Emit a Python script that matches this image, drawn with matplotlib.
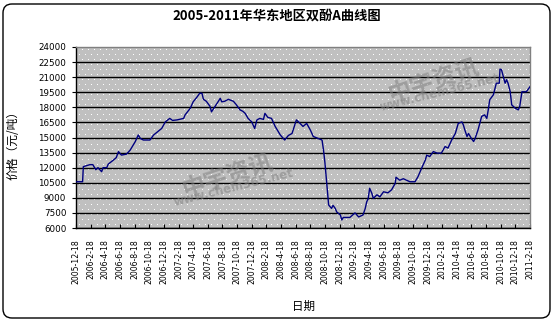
import numpy as np
import matplotlib
matplotlib.use('Agg')
import matplotlib.pyplot as plt
from matplotlib.patches import FancyBboxPatch

plt.rcParams['font.family'] = ['DejaVu Sans']

CJK = ['Noto Sans CJK SC', 'DejaVu Sans']

# months since 2005-12-18 and price (yuan/ton)
months = [0.1, 0.9, 1.0, 1.9, 2.3, 2.7, 3.0, 3.5, 3.7, 4.2, 4.4, 5.1, 5.5, 5.8,
          6.2, 6.9, 7.4, 8.1, 8.5, 8.8, 9.2, 10.1, 10.6, 11.2, 11.7, 12.2,
          12.8, 13.2, 13.8, 14.7, 14.9, 15.6, 16.0, 16.5, 16.9, 17.2, 17.4,
          17.8, 18.3, 18.5, 19.0, 19.4, 19.7, 19.9, 20.3, 20.8, 21.5, 21.9,
          22.4, 22.8, 23.1, 23.5, 24.0, 24.4, 24.7, 25.1, 25.6, 25.8, 26.2,
          26.7, 27.2, 27.9, 28.5, 29.0, 29.5, 30.1, 30.6, 31.0, 31.5, 32.0,
          32.4, 33.1, 33.6, 33.8, 34.0, 34.2, 34.5, 34.6, 34.9, 35.1, 35.4,
          35.6, 36.1, 36.3, 36.5, 37.4, 38.1, 38.6, 39.2, 39.5, 39.7, 39.9,
          40.1, 40.4, 40.6, 41.1, 41.5, 42.0, 42.6, 43.1, 43.6, 43.7, 44.2,
          44.7, 45.6, 46.3, 46.7, 47.2, 47.7, 47.9, 48.3, 48.8, 49.3, 49.9,
          50.4, 50.8, 51.3, 51.8, 52.2, 52.7, 52.9, 53.1, 53.4, 53.6, 54.0,
          54.3, 54.5, 54.9, 55.4, 55.8, 56.1, 56.3, 56.5, 57.0, 57.4, 57.8,
          57.9, 58.1, 58.3, 58.6, 58.8, 59.0, 59.3, 59.5, 60.0, 60.4, 60.6,
          60.9, 61.5, 62.0]
prices = [10600, 10600, 12100, 12300, 12300, 11800, 12000, 11600, 12000, 12000,
          12350, 12750, 13000, 13600, 13250, 13350, 13750, 14600, 15250, 14900,
          14750, 14750, 15250, 15600, 15900, 16550, 16900, 16700, 16750, 16900,
          17250, 17900, 18550, 19000, 19400, 19400, 18800, 18600, 18100, 17550,
          18100, 18550, 18900, 18550, 18600, 18800, 18600, 18250, 17750, 17600,
          17400, 16900, 16550, 15900, 16750, 16900, 16800, 17400, 17000, 16900,
          16100, 15250, 14750, 15200, 15400, 16750, 16400, 16100, 16400, 15750,
          15100, 14900, 14750, 13750, 12450, 10750, 8300, 8200, 7950, 8250,
          7950, 7600, 7300, 6800, 7050, 7050, 7500, 7100, 7300, 7950, 8600,
          8900, 9950, 9450, 8950, 9300, 9100, 9600, 9500, 9800, 10450, 11050,
          10750, 10900, 10600, 10600, 11100, 11950, 12750, 13250, 13100, 13600,
          13450, 13450, 14100, 13950, 14750, 15400, 16400, 16550, 16250, 15750,
          15100, 15400, 14900, 14600, 14900, 15750, 17100, 17250, 16900, 17750,
          18750, 19250, 20400, 20400, 21800, 21750, 21200, 20400, 20750, 20400,
          19550, 18250, 17900, 17750, 18100, 19550, 19550, 20050]

tick_labels = ['2005-12-18', '2006-2-18', '2006-4-18', '2006-6-18', '2006-8-18',
               '2006-10-18', '2006-12-18', '2007-2-18', '2007-4-18', '2007-6-18',
               '2007-8-18', '2007-10-18', '2007-12-18', '2008-2-18', '2008-4-18',
               '2008-6-18', '2008-8-18', '2008-10-18', '2008-12-18', '2009-2-18',
               '2009-4-18', '2009-6-18', '2009-8-18', '2009-10-18', '2009-12-18',
               '2010-2-18', '2010-4-18', '2010-6-18', '2010-8-18', '2010-10-18',
               '2010-12-18', '2011-2-18']
yticks = list(range(6000, 24001, 1500))

fig = plt.figure(figsize=(5.54, 3.22), dpi=100)
ax = fig.add_axes([76/554, 1-228/322, 454/554, 181/322])

# gray plot area with a sparse white dot pattern (excel style fill)
H, W = 181, 454
bg = np.ones((H, W, 3)) * 0xc0 / 255
for r in range(2, H, 5):
    off = 0 if (r // 5) % 2 == 0 else 3
    bg[r, off::6] = 1.0
ax.imshow(bg, extent=(0, 1, 0, 1), transform=ax.transAxes, aspect='auto',
          interpolation='nearest', zorder=0)

ax.plot(months, prices, color='#000080', lw=1.0, zorder=3)

ax.set_xlim(0, 62)
ax.set_ylim(6000, 24000)
ax.set_aspect('auto')
ax.set_xticks(np.arange(0, 63, 2))
ax.set_xticklabels(tick_labels, rotation=90, fontsize=5.6)
ax.set_yticks(yticks)
ax.set_yticklabels([str(v) for v in yticks], fontsize=6.3)
ax.tick_params(axis='x', direction='in', length=3, width=0.8, pad=8)
ax.tick_params(axis='y', direction='out', length=3, width=0.8, pad=4)

ax.yaxis.grid(True, color='black', lw=1.0, zorder=1)
ax.get_ygridlines()[-1].set_visible(False)

for s in ['left', 'bottom']:
    ax.spines[s].set_color('black')
    ax.spines[s].set_linewidth(1.0)
for s in ['top', 'right']:
    ax.spines[s].set_color('#808080')
    ax.spines[s].set_linestyle((0, (1, 1)))
    ax.spines[s].set_linewidth(1.0)

# watermarks
for cx, cy, rot in [(228, 175, 18), (434, 80, 18)]:
    fig.text(cx/554, 1-cy/322, '中宇资讯', family=CJK, fontsize=17,
             fontweight='bold', color='#808080', alpha=0.55, rotation=rot,
             ha='center', va='center')
    fig.text((cx+6)/554, 1-(cy+13)/322, 'www.chem365.net', fontsize=8.5,
             fontweight='bold', color='#808080', alpha=0.55, rotation=rot-4,
             ha='center', va='center')

fig.text(277/554, 1-16/322, '2005-2011年华东地区双酚A曲线图', family=CJK,
         fontsize=9.5, fontweight='bold', ha='center', va='center')
fig.text(13/554, 1-142/322, '价格（元/吨）', family=CJK, fontsize=8.5,
         rotation=90, ha='center', va='center')
fig.text(303/554, 1-306/322, '日期', family=CJK, fontsize=8.3,
         ha='center', va='center')

border = FancyBboxPatch((3, 4), 547, 314, boxstyle='round,pad=0,rounding_size=9',
                        transform=None, facecolor='none', edgecolor='black', lw=1.0)
fig.add_artist(border)

fig.savefig('out.png', dpi=100)
